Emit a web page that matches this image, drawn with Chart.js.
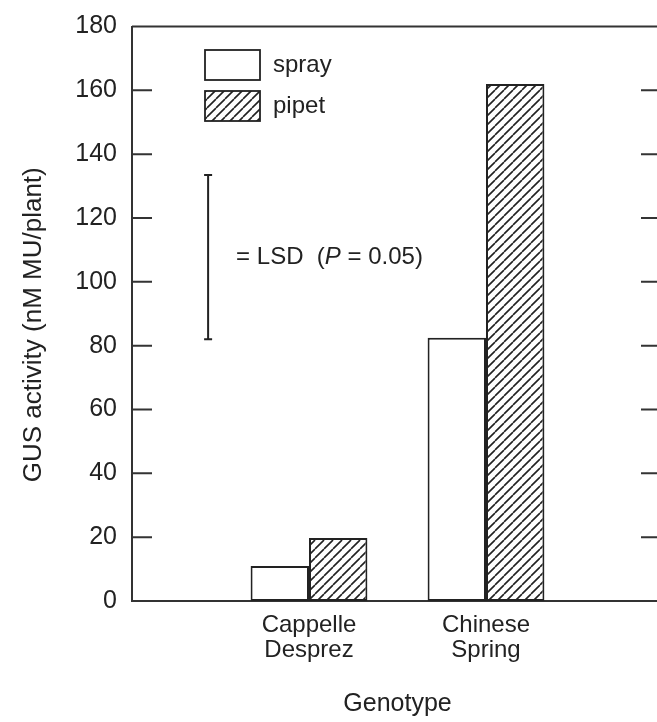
<!DOCTYPE html>
<html>
<head>
<meta charset="utf-8">
<script src="https://cdn.jsdelivr.net/npm/chart.js@4"></script>
<style>
  body { margin: 0; background: #fff; }
  #wrap { width: 657px; height: 722px; overflow: hidden; }
</style>
</head>
<body>
<div id="wrap"><canvas id="chart" width="675" height="722"></canvas></div>
<script>
// values
const genotypes = ['', ['Cappelle', 'Desprez'], ['Chinese', 'Spring'], ''];
const sprayValues = [null, 11, 82.5, null];
const pipetValues = [null, 19.7, 162, null];
const yTicks = { min: 0, max: 180, step: 20 };
const lsdTop = 133.5;
const lsdValue = 51.5;
const yTitle = 'GUS activity (nM MU/plant)';

const FONT = '"Liberation Sans", Arial, Helvetica, sans-serif';
const INK = '#222';

function hatch(size) {
    const c = document.createElement('canvas');
    c.width = size; c.height = size;
    const g = c.getContext('2d');
    g.fillStyle = '#fff';
    g.fillRect(0, 0, size, size);
    g.strokeStyle = INK;
    g.lineWidth = 1.6;
    g.beginPath();
    for (let k = -1; k <= 1; k++) {
        g.moveTo(k * size, size);
        g.lineTo(k * size + size, 0);
    }
    g.stroke();
    return g.createPattern(c, 'repeat');
}

// frame, inward ticks, legend, LSD bar and y title
const extras = {
    id: 'extras',
    afterDraw(chart) {
        const ctx = chart.ctx;
        const ca = chart.chartArea;
        const x = chart.scales.x, y = chart.scales.y;
        ctx.save();
        ctx.strokeStyle = '#333';
        ctx.lineWidth = 2;
        ctx.beginPath();
        ctx.moveTo(ca.left, ca.top); ctx.lineTo(ca.right, ca.top);
        ctx.moveTo(ca.right, ca.top); ctx.lineTo(ca.right, ca.bottom);
        y.ticks.forEach(t => {
            const py = y.getPixelForValue(t.value);
            ctx.moveTo(ca.left, py); ctx.lineTo(ca.left + 20, py);
            ctx.moveTo(ca.right - 22, py); ctx.lineTo(ca.right, py);
        });
        ctx.stroke();

        // legend
        ctx.lineWidth = 1.8;
        ctx.strokeStyle = INK;
        ctx.font = '24px ' + FONT;
        ctx.fillStyle = INK;
        ctx.textBaseline = 'middle';
        chart.data.datasets.forEach((ds, i) => {
            const top = 50 + i * 41;
            ctx.fillStyle = ds.backgroundColor;
            ctx.fillRect(205, top, 55, 30);
            ctx.strokeRect(205, top, 55, 30);
            ctx.fillStyle = INK;
            ctx.fillText(ds.label, 273, top + 15);
        });

        // LSD bar
        const lx = x.getPixelForValue(0.43);
        const y1 = y.getPixelForValue(lsdTop);
        const y2 = y.getPixelForValue(lsdTop - lsdValue);
        ctx.lineWidth = 2;
        ctx.beginPath();
        ctx.moveTo(lx, y1); ctx.lineTo(lx, y2);
        ctx.moveTo(lx - 4, y1); ctx.lineTo(lx + 4, y1);
        ctx.moveTo(lx - 4, y2); ctx.lineTo(lx + 4, y2);
        ctx.stroke();

        let tx = lx + 28;
        const ty = (y1 + y2) / 2;
        const parts = [['= LSD  (', ''], ['P', 'italic '], [' = 0.05)', '']];
        parts.forEach(([s, style]) => {
            ctx.font = style + '24px ' + FONT;
            ctx.fillText(s, tx, ty);
            tx += ctx.measureText(s).width;
        });

        // y axis title, a little below the axis middle as in the figure
        ctx.font = '26px ' + FONT;
        ctx.textAlign = 'center';
        ctx.translate(34, (ca.top + ca.bottom) / 2 + 11);
        ctx.rotate(-Math.PI / 2);
        ctx.fillText(yTitle, 0, 0);
        ctx.restore();
    }
};

new Chart(document.getElementById('chart'), {
    type: 'bar',
    data: {
        labels: genotypes,
        datasets: [
            { label: 'spray', data: sprayValues, backgroundColor: '#fff' },
            { label: 'pipet', data: pipetValues, backgroundColor: hatch(9) }
        ]
    },
    options: {
        responsive: false,
        animation: false,
        layout: { padding: { left: 0, top: 26.5, right: 12, bottom: 0 } },
        datasets: {
            bar: {
                borderColor: INK,
                borderWidth: 2,
                borderSkipped: false,
                categoryPercentage: 0.66,
                barPercentage: 1
            }
        },
        plugins: { legend: { display: false }, tooltip: { enabled: false } },
        scales: {
            x: {
                offset: false,
                grid: { display: false, drawTicks: false },
                border: { display: true, color: '#333', width: 2 },
                ticks: {
                    font: { family: FONT, size: 24, lineHeight: 1.05 },
                    color: INK, padding: 12, maxRotation: 0, autoSkip: false
                },
                title: {
                    display: true, text: 'Genotype', color: INK,
                    font: { family: FONT, size: 25 }, padding: { top: 0, bottom: 3 }
                },
                afterFit: s => { s.height = 121; }
            },
            y: {
                min: yTicks.min, max: yTicks.max,
                grid: { display: false, drawTicks: false },
                border: { display: true, color: '#333', width: 2 },
                ticks: {
                    stepSize: yTicks.step, color: INK, padding: 15,
                    font: { family: FONT, size: 25, lineHeight: 0.8 }
                },
                title: { display: false },
                afterFit: s => { s.width = 132; }
            }
        }
    },
    plugins: [extras]
});
</script>
</body>
</html>
